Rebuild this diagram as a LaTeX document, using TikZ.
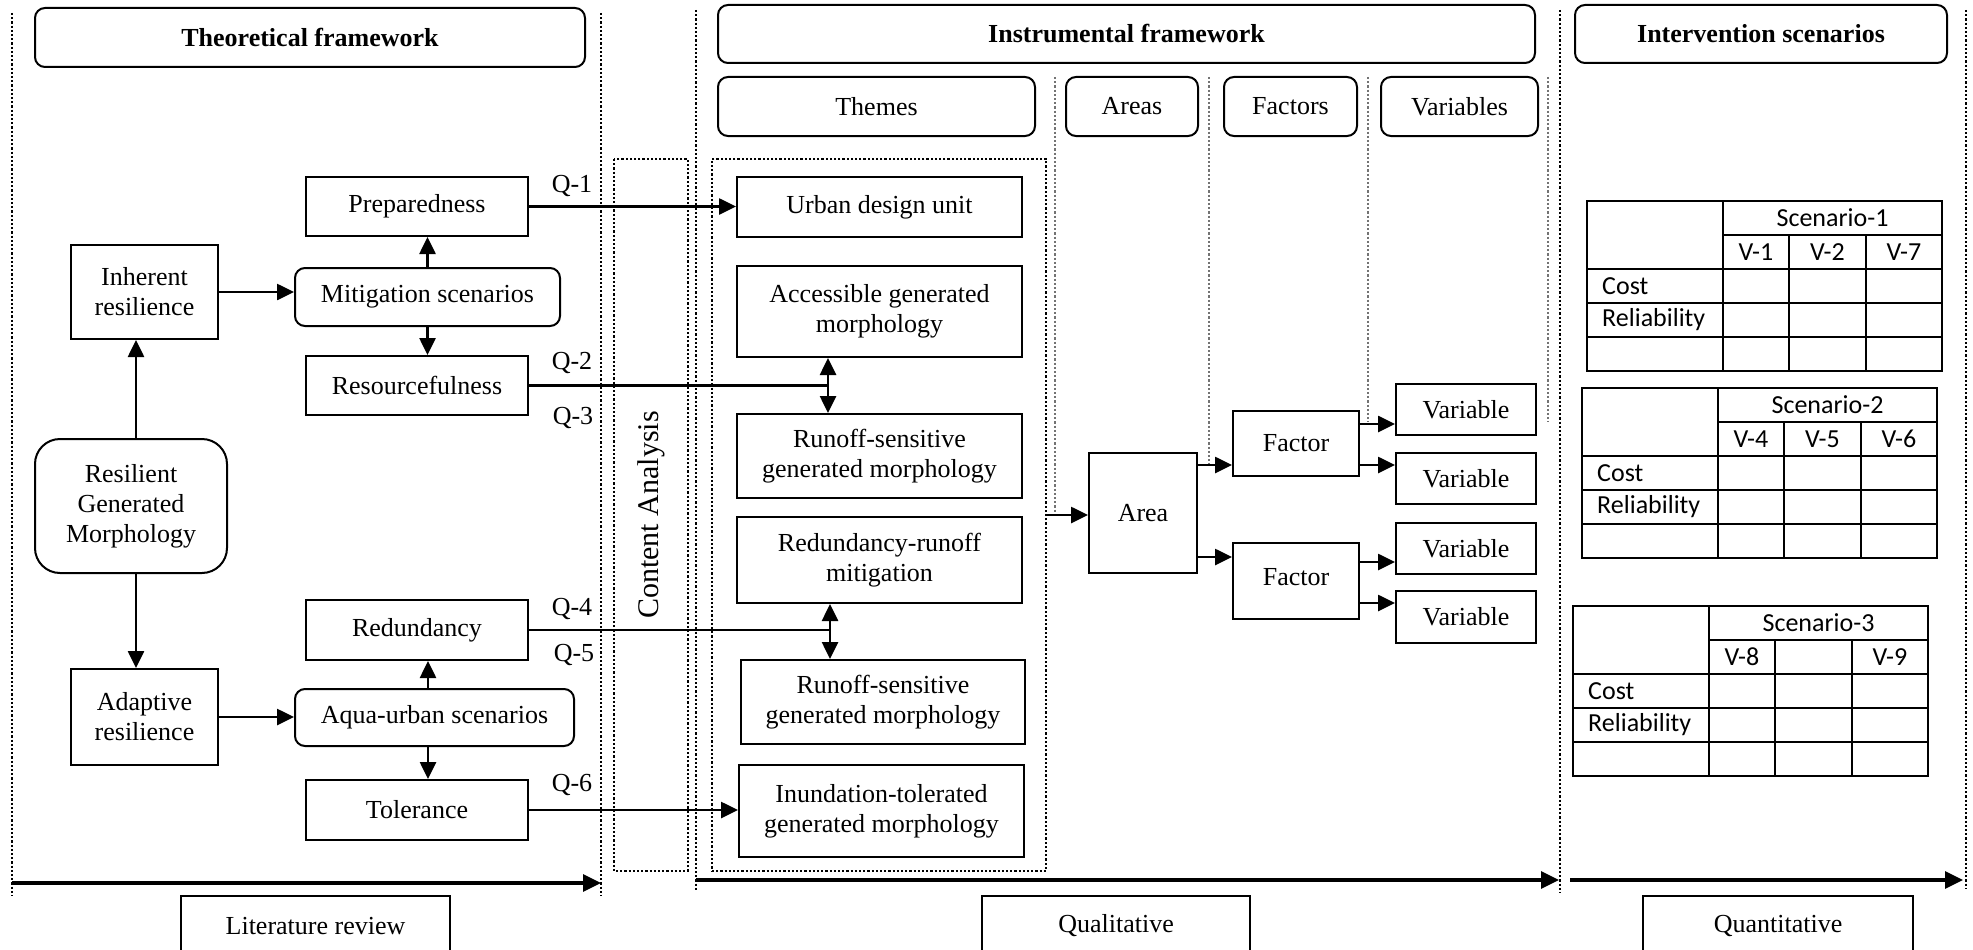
\documentclass[tikz,border=0pt]{standalone}
\usepackage{fontspec}
\setmainfont{Liberation Serif}
\newfontfamily\tabfont{Carlito}
\usetikzlibrary{arrows.meta,calc}

\newcommand\bodysize{\fontsize{26}{30}\selectfont}
\newcommand\tabsize{\tabfont\fontsize{26}{30}\selectfont}

\tikzset{
  box/.style={draw, line width=2pt, inner sep=0pt, align=center, font=\bodysize},
  rbox/.style={box, rounded corners=10pt},
  hbox/.style={rbox, font=\bodysize\bfseries},
  dotline/.style={line width=2.3pt, dash pattern=on 2.2pt off 2pt},
  graydot/.style={dotline, draw=black!55},
  dotbox/.style={draw, dotline, inner sep=0pt},
  arr/.style={line width=2.6pt, -{Triangle[length=17pt,width=16pt]}},
  darr/.style={line width=2.6pt, {Triangle[length=17pt,width=16pt]}-{Triangle[length=17pt,width=16pt]}},
  bigarr/.style={line width=3.2pt, -{Triangle[length=18pt,width=17pt]}},
  plain/.style={line width=2.6pt},
  qlabel/.style={font=\bodysize, inner sep=0pt},
  tabline/.style={line width=2.3pt},
  tabtext/.style={font=\tabsize, inner sep=0pt},
}

% one scenario table: name, top-left x, top-left y, title
\newcommand\scentab[4]{%
  \begin{scope}[shift={(#2,#3)}]
    \draw[tabline] (0,0) rectangle (355,170);
    \draw[tabline] (136,0) -- (136,170);
    \draw[tabline] (136,34) -- (355,34);
    \draw[tabline] (202,34) -- (202,170) (279,34) -- (279,170);
    \draw[tabline] (0,68) -- (355,68) (0,102) -- (355,102) (0,136) -- (355,136);
    \node[tabtext] (#1-title) at (245.5,17) {#4};
    \node[tabtext, anchor=west] (#1-cost) at (15,85) {Cost};
    \node[tabtext, anchor=west] (#1-rel) at (15,119) {Reliability};
    \coordinate (#1-ca) at (169,51);
    \coordinate (#1-cb) at (240.5,51);
    \coordinate (#1-cc) at (317,51);
  \end{scope}}

\begin{document}
\begin{tikzpicture}[x=1pt, y=-1pt]
\useasboundingbox (0,0) rectangle (1973,950);
\clip (0,0) rectangle (1973,950);

% column separators
\draw[dotline] (12,13) -- (12,896);
\draw[dotline] (601,13) -- (601,896);
\draw[dotline] (696,10) -- (696,891);
\draw[dotline] (1560,10) -- (1560,893);
\draw[dotline] (1966,10) -- (1966,888);
\draw[graydot] (1055,77) -- (1055,512);
\draw[graydot] (1209,77) -- (1209,464);
\draw[graydot] (1368,77) -- (1368,422);
\draw[graydot] (1548,77) -- (1548,422);

% headings
\node[hbox, minimum width=550pt, minimum height=59pt] (theo) at (310,37.5) {Theoretical framework};
\node[hbox, minimum width=817pt, minimum height=58pt] (instr) at (1126.5,34) {Instrumental framework};
\node[hbox, minimum width=372pt, minimum height=58pt] (interv) at (1761,34) {Intervention scenarios};
\node[rbox, minimum width=317pt, minimum height=59pt] (themes) at (876.5,106.5) {Themes};
\node[rbox, minimum width=132pt, minimum height=59pt] (areas) at (1132,106.5) {Areas};
\node[rbox, minimum width=133pt, minimum height=59pt] (factors) at (1290.5,106.5) {Factors};
\node[rbox, minimum width=157pt, minimum height=59pt] (variables) at (1459.5,106.5) {Variables};

% theoretical framework
\node[box, minimum width=222pt, minimum height=59pt] (prep) at (417,206.5) {Preparedness};
\node[box, minimum width=147pt, minimum height=94pt] (inh) at (144.5,292) {Inherent\\resilience};
\node[rbox, minimum width=265pt, minimum height=58pt] (mit) at (427.5,297) {Mitigation scenarios};
\node[box, minimum width=222pt, minimum height=59pt] (resf) at (417,385.5) {Resourcefulness};
\node[box, rounded corners=25pt, minimum width=192pt, minimum height=134pt] (rgm) at (131,506) {Resilient\\Generated\\Morphology};
\node[box, minimum width=222pt, minimum height=60pt] (redn) at (417,630) {Redundancy};
\node[box, minimum width=147pt, minimum height=96pt] (adp) at (144.5,717) {Adaptive\\resilience};
\node[rbox, minimum width=279pt, minimum height=57pt] (aqua) at (434.5,717.5) {Aqua-urban scenarios};
\node[box, minimum width=222pt, minimum height=60pt] (tol) at (417,810) {Tolerance};

\node[qlabel] (q1) at (572,186) {Q-1};
\node[qlabel] (q2) at (572,363) {Q-2};
\node[qlabel] (q3) at (573,418) {Q-3};
\node[qlabel] (q4) at (572,609) {Q-4};
\node[qlabel] (q5) at (574,655) {Q-5};
\node[qlabel] (q6) at (572,785) {Q-6};

% content analysis and themes
\node[dotbox, rotate=90, minimum width=712pt, minimum height=74pt, font=\fontsize{30}{34}\selectfont] (ca) at (651,515) {Content Analysis};
\node[dotbox, minimum width=334pt, minimum height=712pt] (themebox) at (879,515) {};
\node[box, minimum width=285pt, minimum height=60pt] (urban) at (879.5,207) {Urban design unit};
\node[box, minimum width=285pt, minimum height=91pt] (acc) at (879.5,311.5) {Accessible generated\\morphology};
\node[box, minimum width=285pt, minimum height=84pt] (run1) at (879.5,456) {Runoff-sensitive\\generated morphology};
\node[box, minimum width=285pt, minimum height=86pt] (rr) at (879.5,560) {Redundancy-runoff\\mitigation};
\node[box, minimum width=284pt, minimum height=84pt] (run2) at (883,702) {Runoff-sensitive\\generated morphology};
\node[box, minimum width=285pt, minimum height=92pt] (inund) at (881.5,811) {Inundation-tolerated\\generated morphology};

% areas, factors, variables
\node[box, minimum width=108pt, minimum height=120pt] (area) at (1143,513) {Area};
\node[box, minimum width=126pt, minimum height=65pt] (fac1) at (1296,443.5) {Factor};
\node[box, minimum width=126pt, minimum height=76pt] (fac2) at (1296,581) {\raisebox{9pt}{Factor}};
\node[box, minimum width=140pt, minimum height=51pt] (var1) at (1466,409.5) {Variable};
\node[box, minimum width=140pt, minimum height=51pt] (var2) at (1466,478.5) {Variable};
\node[box, minimum width=140pt, minimum height=51pt] (var3) at (1466,548.5) {Variable};
\node[box, minimum width=140pt, minimum height=52pt] (var4) at (1466,617) {Variable};

% scenario tables
\scentab{sa}{1587}{201}{Scenario-1}
\node[tabtext] (sa-v1) at (sa-ca) {V-1};
\node[tabtext] (sa-v2) at (sa-cb) {V-2};
\node[tabtext] (sa-v3) at (sa-cc) {V-7};
\scentab{sb}{1582}{388}{Scenario-2}
\node[tabtext] (sb-v1) at (sb-ca) {V-4};
\node[tabtext] (sb-v2) at (sb-cb) {V-5};
\node[tabtext] (sb-v3) at (sb-cc) {V-6};
\scentab{sc}{1573}{606}{Scenario-3}
\node[tabtext] (sc-v1) at (sc-ca) {V-8};
\node[tabtext] (sc-v3) at (sc-cc) {V-9};

% method boxes along the bottom
\node[box, line width=2.2pt, minimum width=269pt, minimum height=60pt] (lit) at (315.5,926) {Literature review};
\node[box, line width=2.2pt, minimum width=268pt, minimum height=60pt] (qual) at (1116,926) {Qualitative};
\node[box, line width=2.2pt, minimum width=270pt, minimum height=60pt] (quant) at (1778,926) {Quantitative};

% connectors: theoretical framework
\draw[arr] ([xshift=5pt]rgm.north) -- ([xshift=5pt]rgm.north |- inh.south);
\draw[arr] ([xshift=5pt]rgm.south) -- ([xshift=5pt]rgm.south |- adp.north);
\draw[arr] (inh.east) -- (inh.east -| mit.west);
\draw[arr] (adp.east) -- (adp.east -| aqua.west);
\draw[arr] (mit.north) -- (mit.north |- prep.south);
\draw[arr] (mit.south) -- (mit.south |- resf.north);
\draw[arr] ([xshift=-6.5pt]aqua.north) -- ([xshift=-6.5pt]aqua.north |- redn.south);
\draw[arr] ([xshift=-6.5pt]aqua.south) -- ([xshift=-6.5pt]aqua.south |- tol.north);

% connectors: into the themes
\coordinate (j1) at (828,385.5);
\coordinate (j2) at (830,630);
\draw[arr] (prep.east) -- (prep.east -| urban.west);
\draw[plain] (resf.east) -- (j1);
\draw[darr] (j1 |- acc.south) -- (j1 |- run1.north);
\draw[plain] (redn.east) -- (j2);
\draw[darr] (j2 |- rr.south) -- (j2 |- run2.north);
\draw[arr] (tol.east) -- (tol.east -| inund.west);

% connectors: themes to variables
\draw[arr] (themebox.east) -- (themebox.east -| area.west);
\draw[arr] ([yshift=-13pt]area.north east) -- ([yshift=-13pt]area.north east -| fac1.west);
\draw[arr] ([yshift=17pt]area.south east) -- ([yshift=17pt]area.south east -| fac2.west);
\draw[arr] ([yshift=-14pt]fac1.north east) -- ([yshift=-14pt]fac1.north east -| var1.west);
\draw[arr] ([yshift=12pt]fac1.south east) -- ([yshift=12pt]fac1.south east -| var2.west);
\draw[arr] ([yshift=-20pt]fac2.north east) -- ([yshift=-20pt]fac2.north east -| var3.west);
\draw[arr] ([yshift=17pt]fac2.south east) -- ([yshift=17pt]fac2.south east -| var4.west);

% process arrows
\coordinate (litS) at (12,883);
\coordinate (litE) at (601,883);
\coordinate (qualS) at (696,880);
\coordinate (qualE) at (1559,880);
\coordinate (quantS) at (1570,880);
\coordinate (quantE) at (1963,880);
\draw[bigarr] (litS) -- (litE);
\draw[bigarr] (qualS) -- (qualE);
\draw[bigarr] (quantS) -- (quantE);
\end{tikzpicture}
\end{document}
